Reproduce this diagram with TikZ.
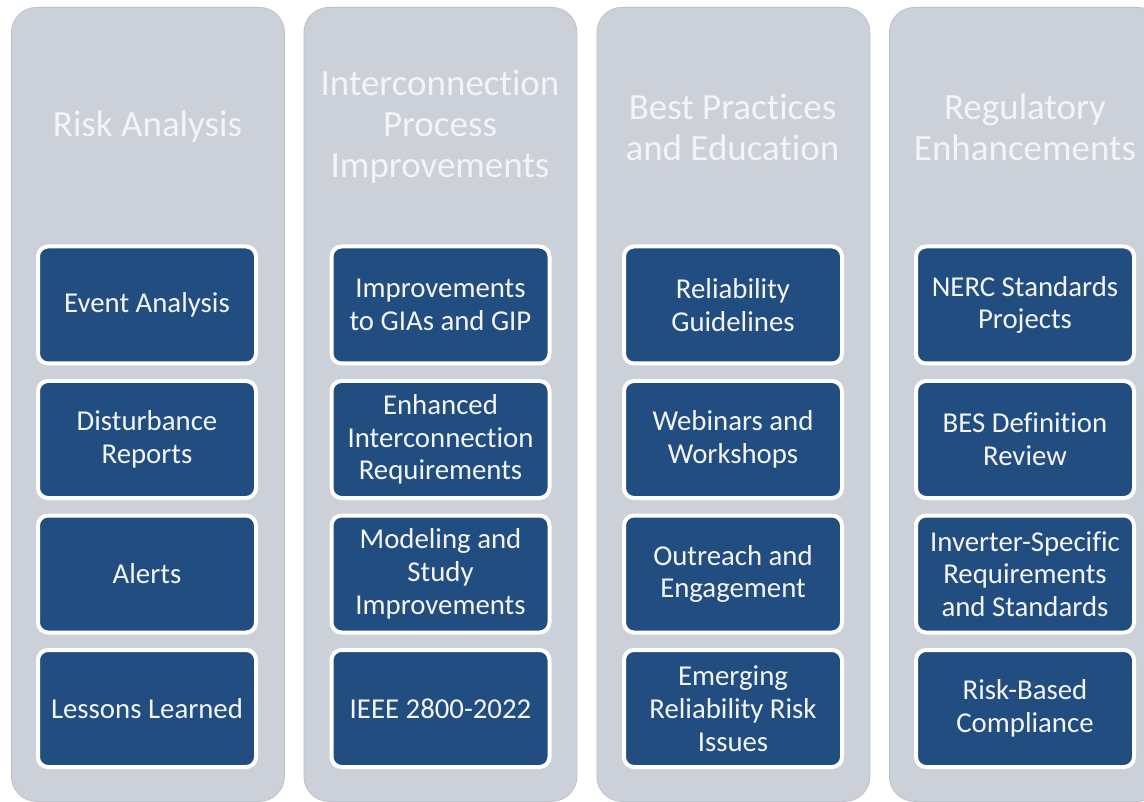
\documentclass[tikz,border=0pt]{standalone}
\usepackage{fontspec}
\setmainfont{Carlito}[Ligatures={NoCommon,NoRare,NoContextual}]
\definecolor{colgrey}{HTML}{CCD0D8}
\definecolor{coledge}{HTML}{BDC1C9}
\definecolor{boxblue}{HTML}{214D80}
\definecolor{headtxt}{HTML}{F3F4F6}
\definecolor{boxtxt}{HTML}{F4F5F7}
\tikzset{
  column/.style={fill=colgrey, draw=coledge, line width=0.8pt, rounded corners=25pt,
    minimum width=273pt, minimum height=794pt, inner sep=0pt, anchor=north west},
  header/.style={text=headtxt, align=center, font=\fontsize{37}{41}\selectfont, inner sep=0pt},
  itembox/.style={fill=boxblue, draw=white, line width=4pt, rounded corners=10pt,
    minimum width=218pt, minimum height=117pt, inner sep=0pt, text=boxtxt,
    align=center, font=\fontsize{28.8}{32.8}\selectfont},
}
\begin{document}
\begin{tikzpicture}[x=1pt,y=-1pt]
\useasboundingbox[fill=white] (0,0) rectangle (1144,802);
% columns
\node[column] (col1) at (11,7) {};
\node[column] (col2) at (303.5,7) {};
\node[column] (col3) at (596.5,7) {};
\node[column] (col4) at (889,7) {};
% headers
\node[header] (h1) at (147.5,127) {Risk Analysis};
\node[header] (h2) at (440,127) {Interconnection\\Process\\Improvements};
\node[header] (h3) at (732.5,127) {Best Practices\\and Education};
\node[header] (h4) at (1025,127) {Regulatory\\Enhancements};
% column 1
\node[itembox] (a1) at (147,305) {Event Analysis};
\node[itembox] (a2) at (147,439.5) {Disturbance\\Reports};
\node[itembox] (a3) at (147,574) {Alerts};
\node[itembox] (a4) at (147,708.5) {Lessons Learned};
% column 2
\node[itembox] (b1) at (440.5,305) {Improvements\\to GIAs and GIP};
\node[itembox] (b2) at (440.5,439.5) {Enhanced\\Interconnection\\Requirements};
\node[itembox] (b3) at (440.5,574) {Modeling and\\Study\\Improvements};
\node[itembox] (b4) at (440.5,708.5) {IEEE 2800-2022};
% column 3
\node[itembox] (c1) at (733,305) {Reliability\\Guidelines};
\node[itembox] (c2) at (733,439.5) {Webinars and\\Workshops};
\node[itembox] (c3) at (733,574) {Outreach and\\Engagement};
\node[itembox] (c4) at (733,708.5) {Emerging\\Reliability Risk\\Issues};
% column 4
\node[itembox] (d1) at (1025,305) {NERC Standards\\Projects};
\node[itembox] (d2) at (1025,439.5) {BES Definition\\Review};
\node[itembox] (d3) at (1025,574) {Inverter-Specific\\Requirements\\and Standards};
\node[itembox] (d4) at (1025,708.5) {Risk-Based\\Compliance};
\end{tikzpicture}
\end{document}
